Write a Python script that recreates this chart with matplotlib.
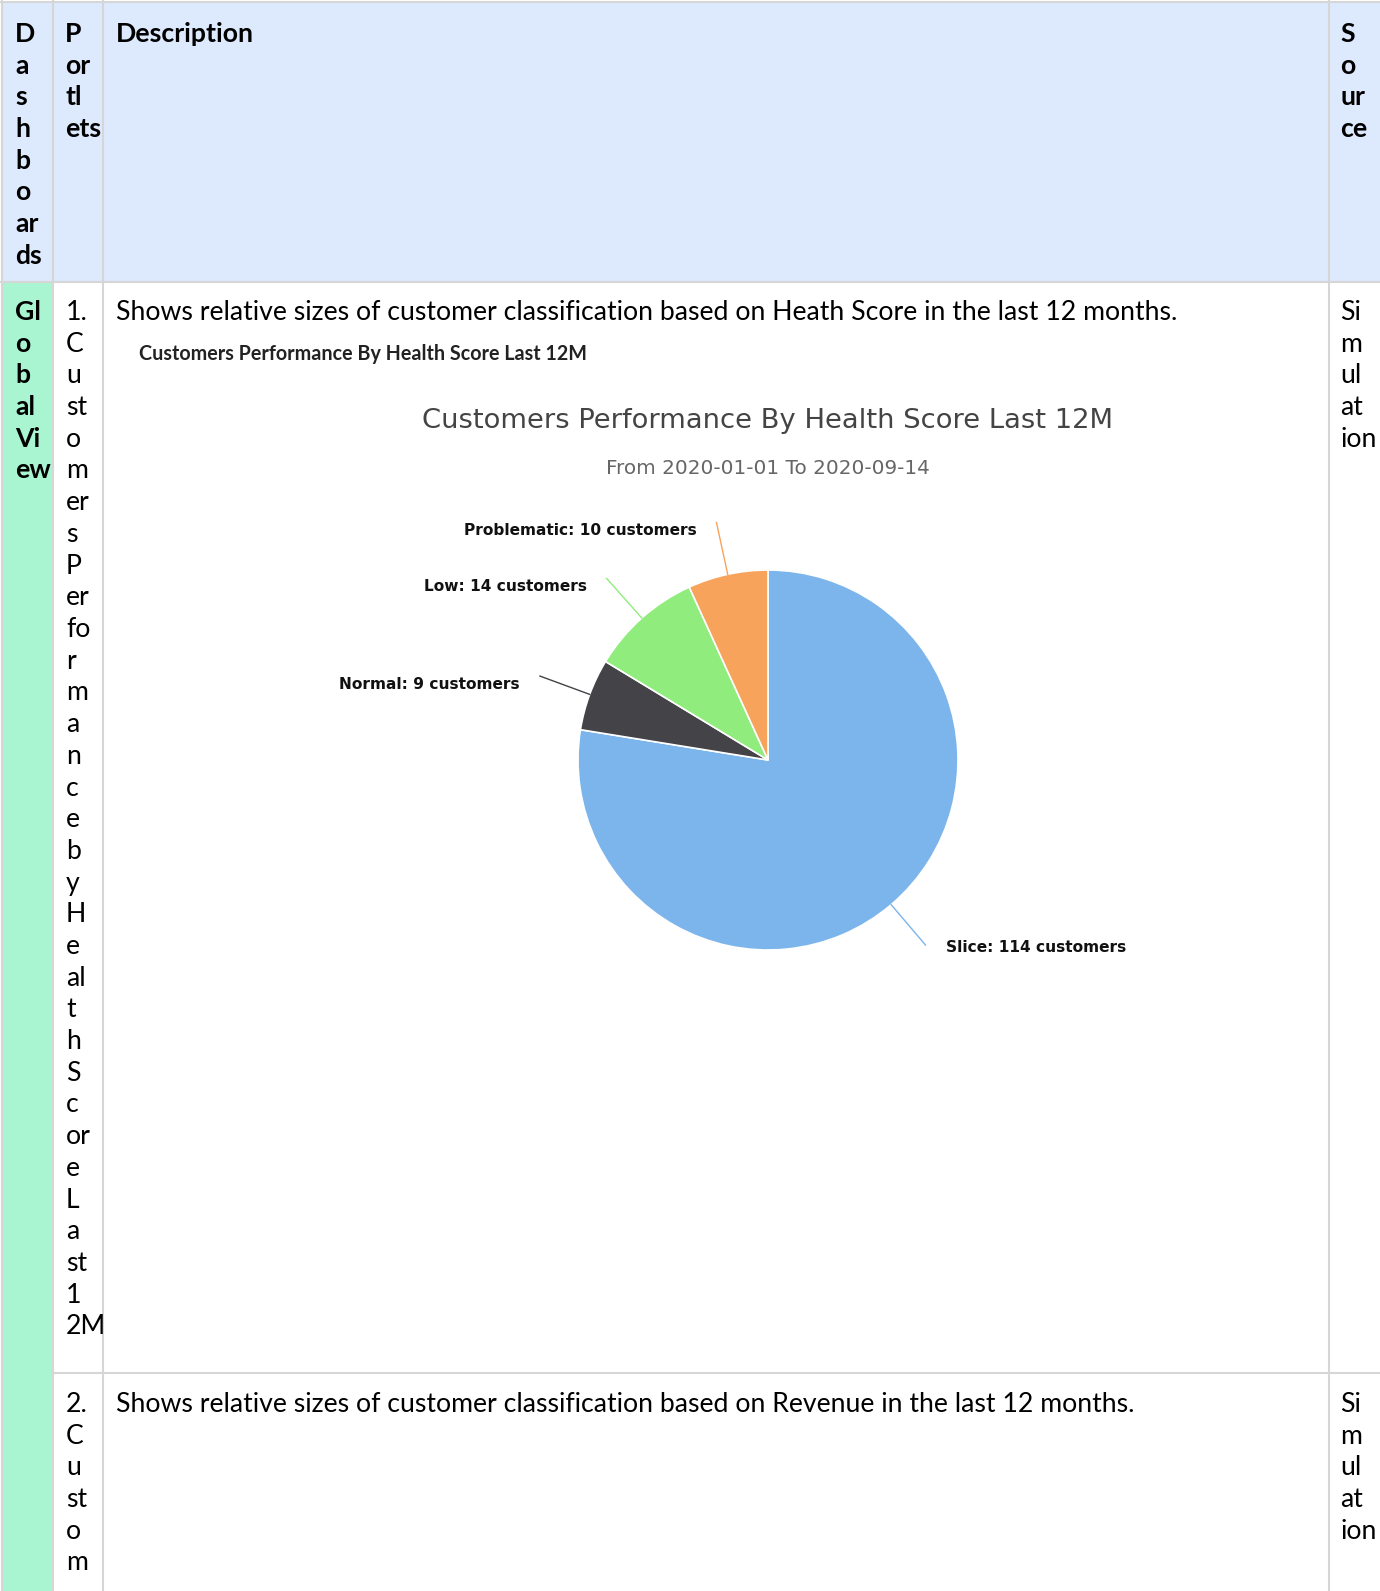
import matplotlib
matplotlib.use('Agg')
import matplotlib.pyplot as plt
from matplotlib.patches import Rectangle
import numpy as np

# table content
dash_header = ['D', 'a', 's', 'h', 'b', 'o', 'ar', 'ds']
portlet_header = ['P', 'or', 'tl', 'ets']
source_header = ['S', 'o', 'ur', 'ce']
dash_row1 = ['Gl', 'o', 'b', 'al', 'Vi', 'ew']
portlet_row1 = ['1.', 'C', 'u', 'st', 'o', 'm', 'er', 's', 'P', 'er', 'fo', 'r', 'm', 'a', 'n',
                'c', 'e', 'b', 'y', 'H', 'e', 'al', 't', 'h', 'S', 'c', 'or', 'e', 'L', 'a',
                'st', '1', '2M']
portlet_row2 = ['2.', 'C', 'u', 'st', 'o', 'm']
source_rows = ['Si', 'm', 'ul', 'at', 'ion']
desc_row1 = 'Shows relative sizes of customer classification based on Heath Score in the last 12 months.'
desc_row2 = 'Shows relative sizes of customer classification based on Revenue in the last 12 months.'

# pie chart data
chart_caption = 'Customers Performance By Health Score Last 12M'
chart_title = 'Customers Performance By Health Score Last 12M'
chart_subtitle = 'From 2020-01-01 To 2020-09-14'
categories = ['Slice', 'Normal', 'Low', 'Problematic']
counts = [114, 9, 14, 10]
colors = ['#7cb5ec', '#434348', '#90ed7d', '#f7a35c']

W, H = 1380, 1591
fig = plt.figure(figsize=(W / 100, H / 100), dpi=100)
ax = fig.add_axes([0, 0, 1, 1])
ax.set_xlim(0, W)
ax.set_ylim(H, 0)
ax.axis('off')

BLUE = '#dde9fc'
GREEN = '#a9f5d1'
GRID = '#d6d6d6'
TFONT = 'Lato'
FS = 19.2
LH = 31.7

# backgrounds
ax.add_patch(Rectangle((3, 3), W - 3, 279, facecolor=BLUE, edgecolor='none'))
ax.add_patch(Rectangle((3, 283), 50, H - 283, facecolor=GREEN, edgecolor='none'))

# grid lines
lw = 1.5
ax.plot([0, W], [2, 2], color=GRID, lw=lw)
ax.plot([2, 2], [0, H], color=GRID, lw=lw)
ax.plot([0, W], [282, 282], color=GRID, lw=lw)
ax.plot([53, W], [1373, 1373], color=GRID, lw=lw)
for xv in [53, 103, 1329]:
    ax.plot([xv, xv], [0, H], color=GRID, lw=lw)


def column(words, x, y0, bold=False):
    for i, w in enumerate(words):
        ax.text(x, y0 + i * LH, w, fontsize=FS, family=TFONT, va='baseline', ha='left',
                fontweight='bold' if bold else 'normal', color='#000000')


hb = 42
r1 = 320
r2 = 1412
column(dash_header, 15, hb, bold=True)
column(portlet_header, 65, hb, bold=True)
column(['Description'], 116, hb, bold=True)
column(source_header, 1340, hb, bold=True)

column(dash_row1, 15, r1, bold=True)
column(portlet_row1, 66, r1)
column([desc_row1], 116, r1)
column(source_rows, 1340, r1)

column(portlet_row2, 66, r2)
column([desc_row2], 116, r2)
column(source_rows, 1340, r2)

# embedded chart texts
ax.text(139, 360, chart_caption, fontsize=14.2, family=TFONT, fontweight='bold',
        color='#222222', va='baseline', ha='left')
ax.text(768, 421, chart_title, fontsize=19.7, family='DejaVu Sans', color='#444444',
        va='center', ha='center')
ax.text(768, 469, chart_subtitle, fontsize=14.4, family='DejaVu Sans', color='#666666',
        va='center', ha='center')

# pie axes: 1 data unit = 1 pixel, centred on pie centre
cx, cy, R = 768, 760, 190
pw, ph = 1200, 800
pax = fig.add_axes([(cx - pw / 2) / W, 1 - (cy + ph / 2) / H, pw / W, ph / H])
pax.axis('off')
wedges, _ = pax.pie(counts, colors=colors, radius=R, startangle=90, counterclock=False,
                    wedgeprops=dict(edgecolor='white', linewidth=1.2))
pax.set_xlim(-pw / 2, pw / 2)
pax.set_ylim(-ph / 2, ph / 2)

for w, cat, n, col in zip(wedges, categories, counts, colors):
    ang = np.deg2rad((w.theta1 + w.theta2) / 2)
    dx, dy = np.cos(ang), np.sin(ang)
    x0, y0 = R * dx, R * dy
    x1, y1 = (R + 53) * dx, (R + 53) * dy
    pax.plot([x0, x1], [y0, y1], color=col, lw=1.0)
    side = 1 if dx > 0 else -1
    pax.text(x1 + side * 20, y1 - (8 if side < 0 else 2), f'{cat}: {n} customers',
             fontsize=11.1, family='DejaVu Sans', fontweight='bold', color='#111111',
             ha='left' if side > 0 else 'right', va='center')

fig.savefig('out.png', dpi=100)
